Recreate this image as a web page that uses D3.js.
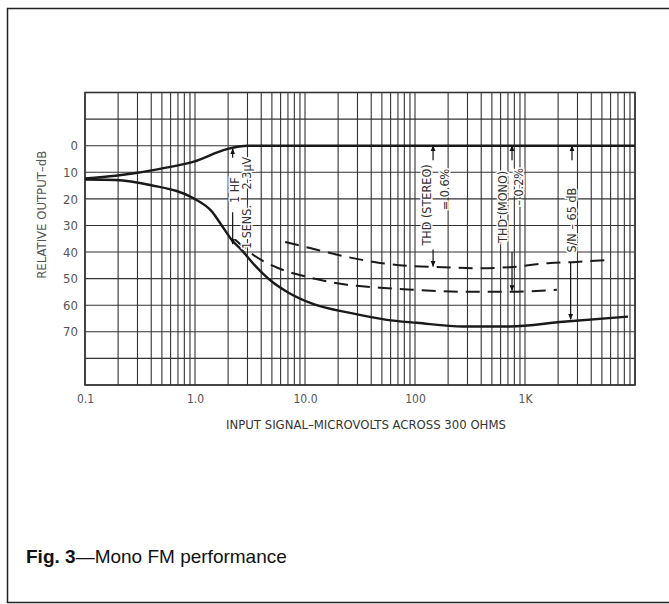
<!DOCTYPE html>
<html>
<head>
<meta charset="utf-8">
<script src="https://cdn.jsdelivr.net/npm/d3@7"></script>
<style>
  body { margin: 0; background: #fff; }
  .lbl { font-family: "Liberation Sans Narrow", "DejaVu Sans Condensed", sans-serif; font-stretch: condensed; fill: #555; }
</style>
</head>
<body>
<div id="container"></div>
<script>
/* CONSTANTS AND GLOBALS */
const width = 669,
    height = 604

// DATA
// signal output curve
const signalUv = [0.1, 0.19, 0.3, 0.48, 0.96, 1.95, 3.0, 10000]
const signalDb = [12.3, 11.3, 10.2, 8.7, 6.1, 1.3, 0, 0]
// noise curve
const noiseUv = [0.1, 0.19, 0.39, 0.97, 1.42, 1.75, 2.16, 2.66, 3.5, 4.8, 6.9, 11.8, 25.7, 55.6, 104, 273, 731, 2215, 8630]
const noiseDb = [12.7, 12.9, 14.8, 19.8, 24.7, 30.0, 35.5, 39.3, 45.0, 50.5, 55.0, 59.5, 62.9, 65.5, 66.6, 68.0, 68.0, 66.2, 64.3]
// THD stereo (dashed)
const stereoUv = [6.6, 11.1, 24, 48, 95, 178, 365, 730, 1690, 2950, 5600]
const stereoDb = [36.2, 38.5, 41.8, 44.1, 45.3, 45.7, 46.1, 45.7, 44.1, 43.7, 43.0]
// THD mono (dashed)
const monoUv = [2.31, 3.37, 5.6, 11.1, 24, 48, 95, 256, 730, 1950]
const monoDb = [35.3, 41.0, 45.9, 49.6, 52.3, 53.4, 54.2, 54.9, 54.9, 54.2]

const xTickValues = [0.1, 1, 10, 100, 1000]
const xTickLabels = ["0.1", "1.0", "10.0", "100", "1K"]
const yTickValues = [0, 10, 20, 30, 40, 50, 60, 70]
const yGridValues = [-20, -10, 0, 10, 20, 30, 40, 50, 60, 70, 80, 90]

//SCALE
const xScale = d3.scaleLog()
    .domain([0.1, 10000])
    .range([85, 635])

const yScale = d3.scaleLinear()
    .domain([-20, 90])
    .range([92.5, 385])

//SVG
const svg = d3.select("#container")
    .append("svg")
    .attr("width", width)
    .attr("height", height)
    .style("background-color", "white")

// page frame
svg.append("path")
    .attr("d", "M669,8.5 H7.5 V602.5 H669")
    .attr("fill", "none")
    .attr("stroke", "#222")
    .attr("stroke-width", 1.5)

// GRID
svg.append("g")
    .selectAll("line")
    .data(xScale.ticks())
    .join("line")
    .attr("x1", d => xScale(d))
    .attr("x2", d => xScale(d))
    .attr("y1", yScale(-20))
    .attr("y2", yScale(90))
    .attr("stroke", "#333")
    .attr("stroke-width", 1.1)

svg.append("g")
    .selectAll("line")
    .data(yGridValues)
    .join("line")
    .attr("x1", xScale(0.1))
    .attr("x2", xScale(10000))
    .attr("y1", d => yScale(d))
    .attr("y2", d => yScale(d))
    .attr("stroke", "#333")
    .attr("stroke-width", 1.1)

svg.append("rect")
    .attr("x", xScale(0.1))
    .attr("y", yScale(-20))
    .attr("width", xScale(10000) - xScale(0.1))
    .attr("height", yScale(90) - yScale(-20))
    .attr("fill", "none")
    .attr("stroke", "#333")
    .attr("stroke-width", 1.6)

// AXES
const xAxis = d3.axisBottom(xScale)
    .tickValues(xTickValues)
    .tickFormat((d, i) => xTickLabels[i])
    .tickSize(0)
    .tickPadding(9)

const yAxis = d3.axisLeft(yScale)
    .tickValues(yTickValues)
    .tickFormat(d => d)
    .tickSize(0)
    .tickPadding(7)

svg.append("g")
    .attr("transform", "translate(0," + yScale(90) + ")")
    .call(xAxis)
    .call(g => g.select(".domain").remove())
    .selectAll("text")
    .attr("class", "lbl")
    .style("font-size", "12px")

svg.append("g")
    .attr("transform", "translate(" + xScale(0.1) + ",0)")
    .call(yAxis)
    .call(g => g.select(".domain").remove())
    .selectAll("text")
    .attr("class", "lbl")
    .style("font-size", "13px")

// CURVES
const line = d3.line()
    .x(d => xScale(d[0]))
    .y(d => yScale(d[1]))
    .curve(d3.curveMonotoneX)

svg.append("path")
    .attr("d", line(d3.zip(signalUv, signalDb)))
    .attr("fill", "none")
    .attr("stroke", "#1a1a1a")
    .attr("stroke-width", 2.4)

svg.append("path")
    .attr("d", line(d3.zip(noiseUv, noiseDb)))
    .attr("fill", "none")
    .attr("stroke", "#1a1a1a")
    .attr("stroke-width", 2.4)

svg.append("path")
    .attr("d", line(d3.zip(stereoUv, stereoDb)))
    .attr("fill", "none")
    .attr("stroke", "#1a1a1a")
    .attr("stroke-width", 2)
    .attr("stroke-dasharray", "14,8")

svg.append("path")
    .attr("d", line(d3.zip(monoUv, monoDb)))
    .attr("fill", "none")
    .attr("stroke", "#1a1a1a")
    .attr("stroke-width", 2)
    .attr("stroke-dasharray", "14,8")

// ARROWS
svg.append("defs")
    .append("marker")
    .attr("id", "head")
    .attr("viewBox", "0 0 10 10")
    .attr("refX", 9)
    .attr("refY", 5)
    .attr("markerWidth", 5)
    .attr("markerHeight", 6)
    .attr("orient", "auto")
    .append("path")
    .attr("d", "M0,1 L10,5 L0,9 Z")
    .attr("fill", "#111")

// [x, dB from, dB to] - head at "to"
const arrows = [
    [2.2, 4.5, 1.2],
    [2.2, 25, 37],
    [146, 5.5, 0],
    [146, 39, 45.4],
    [762, 5.5, 0],
    [762, 40, 54.5],
    [2675, 5.5, 0],
    [2600, 44, 65.3]
]

svg.append("g")
    .selectAll("line")
    .data(arrows)
    .join("line")
    .attr("x1", d => xScale(d[0]))
    .attr("x2", d => xScale(d[0]))
    .attr("y1", d => yScale(d[1]))
    .attr("y2", d => yScale(d[2]))
    .attr("stroke", "#111")
    .attr("stroke-width", 1.2)
    .attr("marker-end", "url(#head)")

// ANNOTATIONS (rotated, reading upward)
const notes = [
    [2.3, 16.7, "1 HF"],
    [2.95, 30.6, "1 SENS."],
    [2.95, 10.3, "2.3\u00b5V"],
    [128, 22.3, "THD (STEREO)"],
    [187, 16.5, "= 0.6%"],
    [631, 23, "THD (MONO)"],
    [881, 15.5, "\u2013 0.2%"],
    [2675, 28, "S/N \u2013 65 dB"]
]

svg.append("g")
    .selectAll("text")
    .data(notes)
    .join("text")
    .attr("class", "lbl")
    .attr("transform", d => "translate(" + xScale(d[0]) + "," + yScale(d[1]) + ") rotate(-90)")
    .attr("text-anchor", "middle")
    .attr("dy", "0.35em")
    .style("font-size", "12.5px")
    .style("fill", "#333")
    .style("paint-order", "stroke")
    .style("stroke", "white")
    .style("stroke-width", 3)
    .text(d => d[2])

// LABELS
svg.append("text")
    .attr("class", "lbl")
    .attr("transform", "translate(46," + yScale(26) + ") rotate(-90)")
    .attr("text-anchor", "middle")
    .style("font-size", "13px")
    .text("RELATIVE OUTPUT\u2013dB")

svg.append("text")
    .attr("class", "lbl")
    .attr("x", 366)
    .attr("y", 429)
    .attr("text-anchor", "middle")
    .style("font-size", "13px")
    .style("fill", "#333")
    .text("INPUT SIGNAL\u2013MICROVOLTS ACROSS 300 OHMS")

const caption = svg.append("text")
    .attr("x", 26)
    .attr("y", 563)
    .style("font-family", "'Liberation Sans', Arial, sans-serif")
    .style("font-size", "19px")
    .style("fill", "#111")

caption.append("tspan").style("font-weight", "bold").text("Fig. 3")
caption.append("tspan").text("\u2014Mono FM performance")
</script>
</body>
</html>
